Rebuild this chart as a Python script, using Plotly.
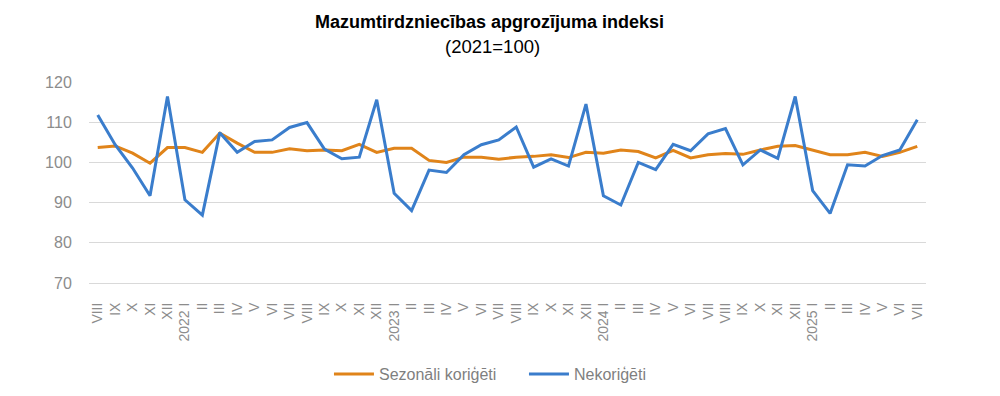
import plotly.graph_objects as go

roman = ["I", "II", "III", "IV", "V", "VI", "VII", "VIII", "IX", "X", "XI", "XII"]
categories = (
    ["VIII", "IX", "X", "XI", "XII"]
    + ["2022 I"] + roman[1:]
    + ["2023 I"] + roman[1:]
    + ["2024 I"] + roman[1:]
    + ["2025 I"] + roman[1:7]
)

seasonally_adjusted = [
    103.7, 104.1, 102.3, 99.8, 103.7,
    103.7, 102.5, 107.3, 104.8, 102.5, 102.5, 103.4, 102.9, 103.1, 102.9, 104.5, 102.5,
    103.5, 103.5, 100.5, 100.0, 101.3, 101.3, 100.8, 101.3, 101.5, 101.9, 101.2, 102.5,
    102.3, 103.1, 102.7, 101.1, 103.0, 101.1, 101.9, 102.2, 102.0, 103.1, 104.0, 104.2,
    103.1, 101.9, 101.9, 102.5, 101.5, 102.5, 104.0,
]

unadjusted = [
    111.8, 104.4, 98.6, 91.7, 116.4,
    90.7, 86.9, 107.4, 102.5, 105.2, 105.6, 108.7, 109.9, 103.3, 100.9, 101.3, 115.6,
    92.3, 88.0, 98.1, 97.5, 101.9, 104.4, 105.6, 108.8, 98.8, 100.9, 99.1, 114.5,
    91.7, 89.4, 100.0, 98.2, 104.5, 102.9, 107.1, 108.4, 99.4, 103.1, 101.0, 116.4,
    93.0, 87.3, 99.4, 99.1, 101.7, 103.1, 110.6,
]

y_ticks = [70, 80, 90, 100, 110, 120]

x = list(range(len(categories)))

fig = go.Figure()
fig.add_trace(go.Scatter(
    x=x, y=seasonally_adjusted, mode="lines", name="Sezonāli koriģēti",
    line=dict(color="#E0841A", width=3),
))
fig.add_trace(go.Scatter(
    x=x, y=unadjusted, mode="lines", name="Nekoriģēti",
    line=dict(color="#3A7DCC", width=3),
))

fig.update_layout(
    width=992, height=388,
    margin=dict(l=81, r=74, t=74, b=113, autoexpand=False),
    paper_bgcolor="white", plot_bgcolor="white",
    font=dict(family="Liberation Sans, Arial, sans-serif", color="#595959"),
    title=dict(
        text="<b>Mazumtirdzniecības apgrozījuma indeksi</b>",
        x=0.4854, xanchor="center", y=0.964, yanchor="middle",
        font=dict(size=18, color="#000000"),
    ),
    annotations=[dict(
        text="(2021=100)", xref="paper", yref="paper",
        x=0.4815, y=1.179, xanchor="center", yanchor="middle",
        showarrow=False, font=dict(size=18.5, color="#000000"),
    )],
    showlegend=True,
    legend=dict(
        orientation="h", x=0.2867, xanchor="left", y=-0.453, yanchor="middle",
        font=dict(size=16, color="#7f7f7f"), itemwidth=40,
        entrywidth=140, entrywidthmode="pixels",
        traceorder="normal",
    ),
    xaxis=dict(
        tickmode="array", tickvals=x, ticktext=categories, tickangle=-90,
        range=[-0.5, len(categories) - 0.5],
        showgrid=False, zeroline=False, automargin=False,
        showline=True, linecolor="#d9d9d9", linewidth=1,
        tickfont=dict(size=14, color="#8c8c8c"),
        ticks="outside", ticklen=13, tickcolor="rgba(0,0,0,0)",
    ),
    yaxis=dict(
        range=[70, 120], tickvals=y_ticks, automargin=False,
        showgrid=True, gridcolor="#d9d9d9", gridwidth=1,
        zeroline=False, showline=False,
        tickfont=dict(size=16, color="#8c8c8c"),
        ticks="outside", ticklen=13, tickcolor="rgba(0,0,0,0)",
    ),
)

fig.write_html("out.html")
